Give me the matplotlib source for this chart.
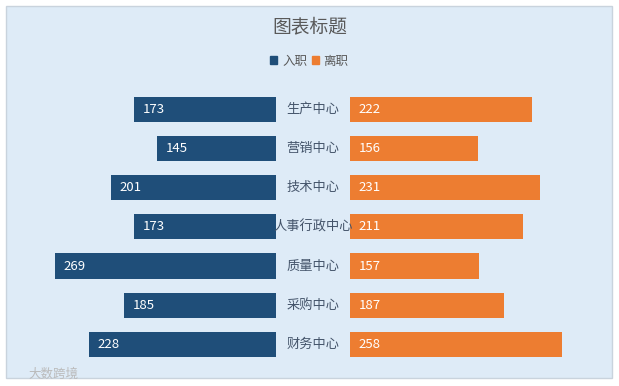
import matplotlib.pyplot as plt
from matplotlib.patches import Rectangle, Patch

plt.rcParams['font.family'] = ['Noto Sans CJK SC', 'DejaVu Sans']

categories = ['生产中心', '营销中心', '技术中心', '人事行政中心', '质量中心', '采购中心', '财务中心']
hired = [173, 145, 201, 173, 269, 185, 228]      # 入职
left_job = [222, 156, 231, 211, 157, 187, 258]   # 离职

blue = '#1F4E79'
orange = '#ED7D31'
bg = '#DEEBF7'

W, H = 619, 386
fig = plt.figure(figsize=(W / 100, H / 100), dpi=100)
fig.patch.set_facecolor('white')

# chart area box
fig.patches.append(Rectangle((6 / W, 1 - 378 / H), 606 / W, 372 / H,
                             transform=fig.transFigure, facecolor=bg,
                             edgecolor='#C9D3DD', linewidth=1, zorder=-5))

ax = fig.add_axes([0, 0, 1, 1])
ax.set_facecolor('none')
ax.set_zorder(2)

scale = 0.821   # px per unit
cx = 313        # center pixel
gap = 37 / scale
ax.set_xlim(-cx / scale, (W - cx) / scale)
row = 39.13
top = 109.5
ax.set_ylim((H - top) / row, -top / row)
ax.axis('off')

y = list(range(len(categories)))
ax.barh(y, [-v for v in hired], left=-gap, height=0.64, color=blue, zorder=2)
ax.barh(y, left_job, left=gap, height=0.64, color=orange, zorder=2)

for i in y:
    ax.annotate(str(hired[i]), (-gap - hired[i], i), xytext=(6, 0),
                textcoords='offset points', ha='left', va='center',
                color='white', fontsize=9.5, zorder=3)
    ax.annotate(str(left_job[i]), (gap, i), xytext=(6, 0),
                textcoords='offset points', ha='left', va='center',
                color='white', fontsize=9.5, zorder=3)
    ax.text(0, i, categories[i], ha='center', va='center',
            color='#44546A', fontsize=9.5, zorder=4)

fig.text(0.5, 1 - 27 / H, '图表标题', ha='center', va='center',
         fontsize=13.5, color='#595959')

handles = [Patch(color=blue, label='入职'), Patch(color=orange, label='离职')]
fig.legend(handles=handles, loc='center', bbox_to_anchor=(0.5, 1 - 61 / H),
           ncol=2, frameon=False, fontsize=9, handlelength=0.55,
           handleheight=0.55, handletextpad=0.4, columnspacing=0.35,
           labelcolor='#595959')

fig.text(28 / W, 1 - 374 / H, '大数跨境', ha='left', va='center',
         fontsize=9, color='#BBBBBB')

fig.savefig('out.png', dpi=100, facecolor='white')
